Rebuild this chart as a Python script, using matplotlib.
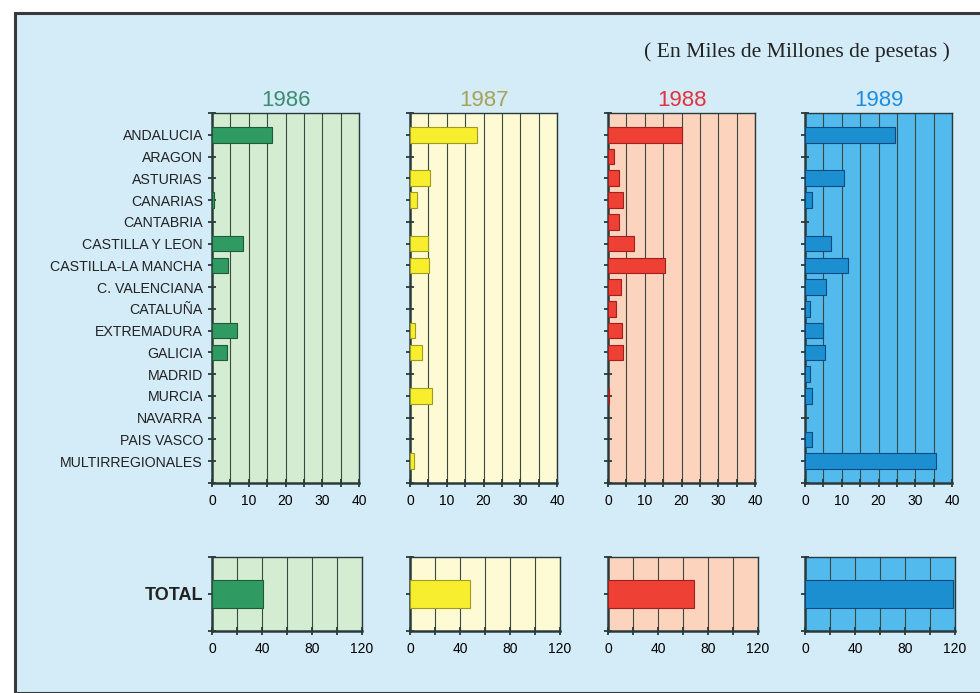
import matplotlib
matplotlib.use("Agg")
import matplotlib.pyplot as plt
from matplotlib.patches import Rectangle
import numpy as np

# %% data (miles de millones de pesetas)
regions = ["ANDALUCIA", "ARAGON", "ASTURIAS", "CANARIAS", "CANTABRIA",
           "CASTILLA Y LEON", "CASTILLA-LA MANCHA", "C. VALENCIANA", "CATALUÑA",
           "EXTREMADURA", "GALICIA", "MADRID", "MURCIA", "NAVARRA",
           "PAIS VASCO", "MULTIRREGIONALES"]
years = ["1986", "1987", "1988", "1989"]

v1986 = [16.3, 0, 0, 0.5, 0, 8.4, 4.4, 0, 0, 6.8, 4.2, 0, 0, 0, 0, 0]
v1987 = [18.2, 0, 5.5, 2.0, 0, 4.9, 5.3, 0, 0, 1.3, 3.3, 0, 6.1, 0, 0, 1.2]
v1988 = [20.0, 1.6, 3.1, 4.1, 3.1, 7.2, 15.4, 3.6, 2.3, 3.8, 4.0, 0, 0.4, 0, 0, 0]
v1989 = [24.6, 0, 10.7, 2.0, 0, 7.1, 11.6, 5.8, 1.3, 4.8, 5.5, 1.4, 1.8, 0, 1.8, 35.6]
totals = [40.6, 48.0, 69.0, 118.0]

series = [v1986, v1987, v1988, v1989]
bg_cols = ["#d3ecd2", "#fdfad4", "#fcd3bd", "#52baec"]
bar_cols = ["#2f9a62", "#f7ef2e", "#ee4034", "#1b8fd0"]
edge_cols = ["#1f5a3a", "#a09a20", "#a02020", "#0c4a80"]
title_cols = ["#3c8c72", "#a8a158", "#e5303e", "#1c8ee0"]

sans = ["Liberation Sans", "DejaVu Sans"]

W, H = 980, 693
fig = plt.figure(figsize=(W / 100, H / 100), dpi=100)
fig.patch.set_facecolor("white")
fig.patches.append(Rectangle((15 / W, 0), 1.0, 1 - 13 / H, transform=fig.transFigure,
                             facecolor="#d4ebf8", edgecolor="#3a3a3a", linewidth=2.2,
                             zorder=-5))

fig.text(950 / W, 1 - 52 / H, "( En Miles de Millones de pesetas )",
         ha="right", va="center", fontsize=15.6, family="Liberation Serif", color="#222222")

spine_c = "#2a3a3a"
lefts = [212, 410, 608, 805]
pw = 147
y = np.arange(len(regions))


def style(a):
    a.grid(True, axis="x", which="both", color="#3a4a40", linewidth=0.8, zorder=1)
    a.tick_params(axis="both", which="both", direction="inout", length=6, width=1.3,
                  color=spine_c)
    a.tick_params(axis="x", labelsize=10, pad=5)
    for lab in a.get_xticklabels():
        lab.set_family(sans)
    for s in ["right", "top"]:
        a.spines[s].set_linewidth(1.0)
        a.spines[s].set_color(spine_c)
    for s in ["left", "bottom"]:
        a.spines[s].set_linewidth(1.8)
        a.spines[s].set_color(spine_c)


for i in range(4):
    # top panel by region
    ax = fig.add_axes([lefts[i] / W, 1 - 483 / H, pw / W, (483 - 113) / H])
    ax.set_facecolor(bg_cols[i])
    lw = [0.8 if v > 0 else 0 for v in series[i]]
    ax.barh(y, series[i], height=0.72, color=bar_cols[i], edgecolor=edge_cols[i],
            linewidth=lw, zorder=3)
    ax.set_xlim(0, 40)
    ax.set_ylim(len(regions), -1)
    ax.set_xticks(np.arange(0, 41, 10))
    ax.set_xticks(np.arange(0, 41, 5), minor=True)
    ax.set_yticks(np.arange(-1, len(regions) + 1))
    if i == 0:
        ax.set_yticklabels([""] + regions + [""], family=sans,
                           fontsize=10.2, color="#222222")
    else:
        ax.set_yticklabels([])
    style(ax)
    ax.set_title(years[i], color=title_cols[i], fontsize=16, family=sans, pad=5)

    # bottom panel, total
    bx = fig.add_axes([lefts[i] / W, 1 - 631 / H, (pw + 3) / W, (631 - 557) / H])
    bx.set_facecolor(bg_cols[i])
    bx.barh([0], [totals[i]], height=0.75, color=bar_cols[i], edgecolor=edge_cols[i],
            linewidth=0.8, zorder=3)
    bx.set_xlim(0, 120)
    bx.set_ylim(-1, 1)
    bx.set_xticks(np.arange(0, 121, 40))
    bx.set_xticks(np.arange(0, 121, 20), minor=True)
    bx.set_yticks([-1, 0, 1])
    if i == 0:
        bx.set_yticklabels(["", "TOTAL", ""], fontsize=13, fontweight="bold",
                           family=sans, color="#222222")
    else:
        bx.set_yticklabels([])
    style(bx)

fig.savefig("out.png", dpi=100, facecolor=fig.get_facecolor())
